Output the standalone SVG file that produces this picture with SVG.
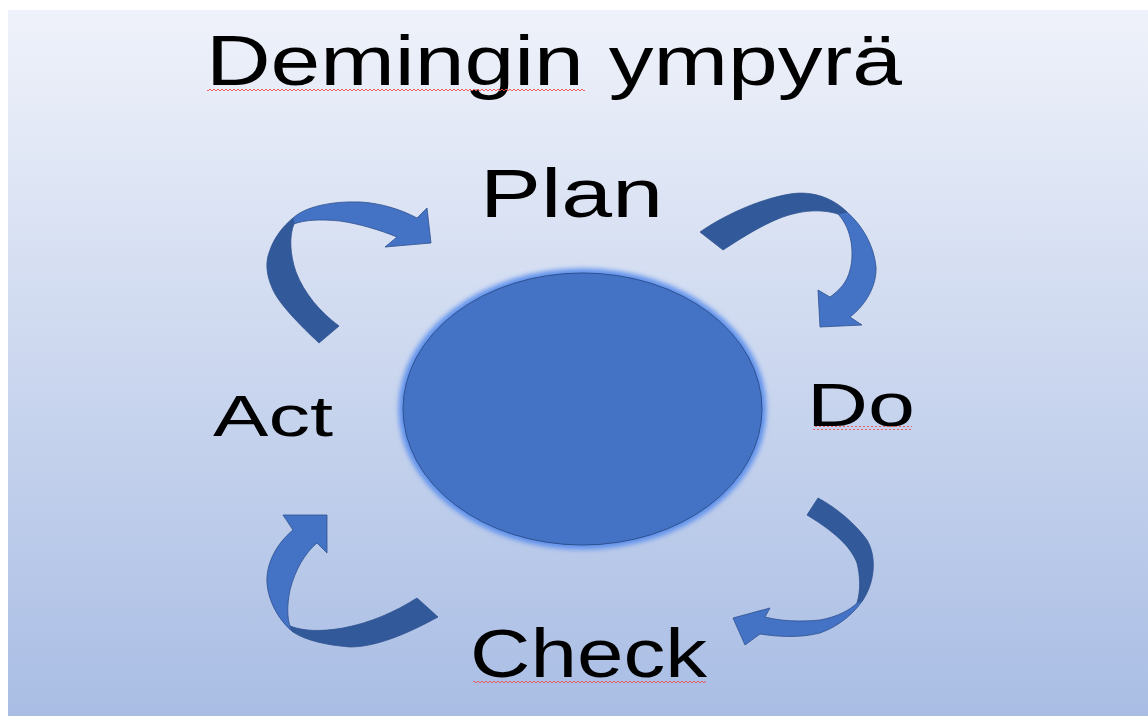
<svg xmlns="http://www.w3.org/2000/svg" width="1148" height="716" viewBox="0 0 1148 716">
<style>
.t{font-family:"Liberation Sans",Arial,sans-serif;fill:#000}
.dk{fill:#32599a;stroke:#2f528f;stroke-width:0.8}
.lt{fill:#4472c4;stroke:#2f528f;stroke-width:0.8}
</style>
<defs>
<linearGradient id="bg" x1="0" y1="0" x2="0" y2="1">
<stop offset="0" stop-color="#eff2fa"/>
<stop offset="1" stop-color="#a9bde4"/>
</linearGradient>
<filter id="glow" x="-10%" y="-10%" width="120%" height="120%">
<feGaussianBlur stdDeviation="2.5"/>
</filter>
<pattern id="sq" width="4" height="4" patternUnits="userSpaceOnUse">
<path d="M0,3 L2,1 L4,3" fill="none" stroke="#f05050" stroke-width="0.9"/>
</pattern>
</defs>
<rect x="0" y="0" width="1148" height="716" fill="#ffffff"/>
<rect x="8" y="10" width="1140" height="706" fill="url(#bg)"/>

<g id="title">
<text class="t" x="206" y="85" font-size="70" textLength="696" lengthAdjust="spacingAndGlyphs">Demingin ympyrä</text>
<rect x="207" y="88" width="378" height="4" fill="url(#sq)"/>
</g>

<g id="center">
<ellipse cx="582.5" cy="409" rx="184" ry="140.5" fill="#5f91ec" filter="url(#glow)"/>
<ellipse cx="582.5" cy="409" rx="179.5" ry="136" fill="#4472c4" stroke="#2f528f" stroke-width="1"/>
</g>

<g id="plan"><text class="t" x="480" y="217" font-size="68" textLength="183" lengthAdjust="spacingAndGlyphs">Plan</text></g>
<g id="do">
<text class="t" x="807" y="426" font-size="62" textLength="108" lengthAdjust="spacingAndGlyphs">Do</text>
<rect x="813" y="426" width="99" height="4" fill="url(#sq)"/>
</g>
<g id="check">
<text class="t" x="470" y="677" font-size="68" textLength="237" lengthAdjust="spacingAndGlyphs">Check</text>
<rect x="473" y="679" width="233" height="4" fill="url(#sq)"/>
</g>
<g id="act"><text class="t" x="213" y="436" font-size="58" textLength="120" lengthAdjust="spacingAndGlyphs">Act</text></g>

<g id="connectors">
<g id="arrow-act-plan">
<path class="dk" d="M319,343 C300,325 280,305 273,290 C266,275 265,262 270,250 C274,238 283,226 293,218 L294,224 C289,236 290,255 296,272 C304,293 320,312 339,326 Z"/>
<path class="lt" d="M293,218 C305,207 330,201 360,202 C380,203 400,209 417,218 L427,208 L431,243 L385,247 L397,237 C380,230 360,224 340,221 C320,219 304,220 294,224 Z"/>
</g>
<g id="arrow-plan-do">
<path class="dk" d="M700,232 C720,218 755,200 790,194 C815,190 835,200 847,212 L838,214 C825,210 810,210 797,213 C778,217 758,227 723,250 Z"/>
<path class="lt" d="M847,212 C862,225 874,245 876,267 C877,285 866,305 850,317 L862,325 L820,327 L818,290 L830,297 C840,290 847,282 850,270 C854,255 853,230 838,214 Z"/>
</g>
<g id="arrow-do-check">
<path class="dk" d="M818,498 C835,507 855,523 867,540 C876,555 876,580 863,600 L857,603 C861,590 860,575 857,563 C852,550 840,535 807,515 Z"/>
<path class="lt" d="M863,600 C855,612 840,626 820,633 C800,638 780,637 760,634 L745,645 L733,618 L770,608 L765,617 C780,621 800,622 820,620 C837,617 850,610 857,603 Z"/>
</g>
<g id="arrow-check-act">
<path class="lt" d="M293,632 C278,620 268,600 267,583 C266,565 275,545 293,530 L283,515 L327,515 L327,553 L317,543 C305,553 295,570 290,590 C287,605 287,617 290,626 Z"/>
<path class="dk" d="M417,598 C395,612 370,623 343,628 C320,632 303,631 290,626 L293,632 C305,640 325,645 350,647 C375,647 405,635 438,617 Z"/>
</g>
</g>
</svg>
